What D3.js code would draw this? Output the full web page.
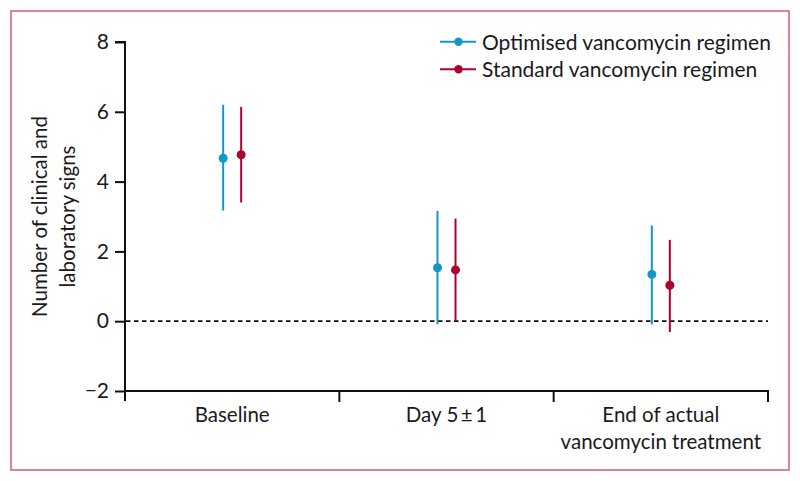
<!DOCTYPE html>
<html>
<head>
<meta charset="utf-8">
<script src="https://cdn.jsdelivr.net/npm/d3@7"></script>
<style>
  html, body { margin: 0; padding: 0; background: #fff; }
  svg { display: block; }
  text { font-family: Lato, "Open Sans", sans-serif; fill: #1a1a1a; }
</style>
</head>
<body>
<svg id="chart" width="800" height="481"></svg>
<script>
// ---- data ----
const categories = ["Baseline", "Day 5\u2009±\u20091", "End of actual|vancomycin treatment"];
const seriesNames = ["Optimised vancomycin regimen", "Standard vancomycin regimen"];
const optimisedMean = [4.67, 1.53, 1.34];
const optimisedLow  = [3.17, -0.09, -0.09];
const optimisedHigh = [6.20, 3.16, 2.74];
const standardMean  = [4.77, 1.47, 1.03];
const standardLow   = [3.40, 0.00, -0.31];
const standardHigh  = [6.14, 2.94, 2.33];
const yTicks = [-2, 0, 2, 4, 6, 8];
const yTitle = ["Number of clinical and", "laboratory signs"];

// ---- styling ----
const colors = ["#1597c6", "#a8052f"];
const offsets = [-9, 9];

const svg = d3.select("#chart");

// frame
svg.append("rect")
  .attr("x", 11).attr("y", 11).attr("width", 778).attr("height", 459)
  .attr("fill", "none").attr("stroke", "#d25a7c").attr("stroke-width", 1.5);

const x = d3.scaleBand().domain(categories).range([125, 768]).paddingInner(0).paddingOuter(0);
const y = d3.scaleLinear().domain([-2, 8]).range([391, 42]);

// y axis
const yAxis = svg.append("g").attr("transform", "translate(125,0)")
  .call(d3.axisLeft(y).tickValues(yTicks).tickSize(10).tickPadding(6)
    .tickFormat(d => d < 0 ? "\u2212" + Math.abs(d) : d));
yAxis.select(".domain").attr("stroke", "#111").attr("stroke-width", 2)
  .attr("d", `M-10,${y(8)}H0V${y(-2) + 10}`);
yAxis.selectAll(".tick line").attr("stroke", "#111").attr("stroke-width", 2);
yAxis.selectAll(".tick text").style("font-size", "21px").attr("fill", "#1a1a1a")
  .style("font-family", "Lato, sans-serif");

// x axis
const xg = svg.append("g").attr("transform", `translate(0,${y(-2)})`);
xg.append("line").attr("x1", 124).attr("x2", 769).attr("y1", 0).attr("y2", 0)
  .attr("stroke", "#111").attr("stroke-width", 2);
const bounds = categories.map(c => x(c)).concat([x(categories[categories.length - 1]) + x.bandwidth()]);
xg.selectAll("line.tk").data(bounds.slice(1)).join("line").attr("class", "tk")
  .attr("x1", d => d).attr("x2", d => d).attr("y1", 0).attr("y2", 11)
  .attr("stroke", "#111").attr("stroke-width", 2);

// category labels
categories.forEach(c => {
  const lines = c.split("|");
  const t = svg.append("text")
    .attr("x", x(c) + x.bandwidth() / 2).attr("y", 422)
    .attr("text-anchor", "middle").style("font-size", "20.5px");
  lines.forEach((l, i) => t.append("tspan").attr("x", x(c) + x.bandwidth() / 2)
    .attr("dy", i === 0 ? 0 : 27).text(l));
});

// zero dashed line
svg.append("line").attr("x1", 126).attr("x2", 768).attr("y1", y(0)).attr("y2", y(0))
  .attr("stroke", "#111").attr("stroke-width", 1.7).attr("stroke-dasharray", "4.5,3.5");

// y title
const yt = svg.append("text").attr("transform", `translate(47,${(y(8) + y(-2)) / 2}) rotate(-90)`)
  .attr("text-anchor", "middle").style("font-size", "20.5px");
yTitle.forEach((l, i) => yt.append("tspan").attr("x", 0).attr("dy", i === 0 ? 0 : 28).text(l));

// series
const series = [
  { mean: optimisedMean, low: optimisedLow, high: optimisedHigh },
  { mean: standardMean, low: standardLow, high: standardHigh }
];
series.forEach((s, si) => {
  const g = svg.append("g");
  g.selectAll("line").data(categories).join("line")
    .attr("x1", (c) => x(c) + x.bandwidth() / 2 + offsets[si])
    .attr("x2", (c) => x(c) + x.bandwidth() / 2 + offsets[si])
    .attr("y1", (c, i) => y(s.low[i])).attr("y2", (c, i) => y(s.high[i]))
    .attr("stroke", colors[si]).attr("stroke-width", 2);
  g.selectAll("circle").data(categories).join("circle")
    .attr("cx", (c) => x(c) + x.bandwidth() / 2 + offsets[si])
    .attr("cy", (c, i) => y(s.mean[i])).attr("r", 4.5)
    .attr("fill", colors[si]);
});

// legend
seriesNames.forEach((n, i) => {
  const cy = 41.7 + i * 27.5;
  svg.append("line").attr("x1", 440).attr("x2", 476).attr("y1", cy).attr("y2", cy)
    .attr("stroke", colors[i]).attr("stroke-width", 2);
  svg.append("circle").attr("cx", 458.5).attr("cy", cy).attr("r", 4.2).attr("fill", colors[i]);
  svg.append("text").attr("x", 482).attr("y", cy + 8).style("font-size", "21px").text(n);
});
</script>
</body>
</html>
